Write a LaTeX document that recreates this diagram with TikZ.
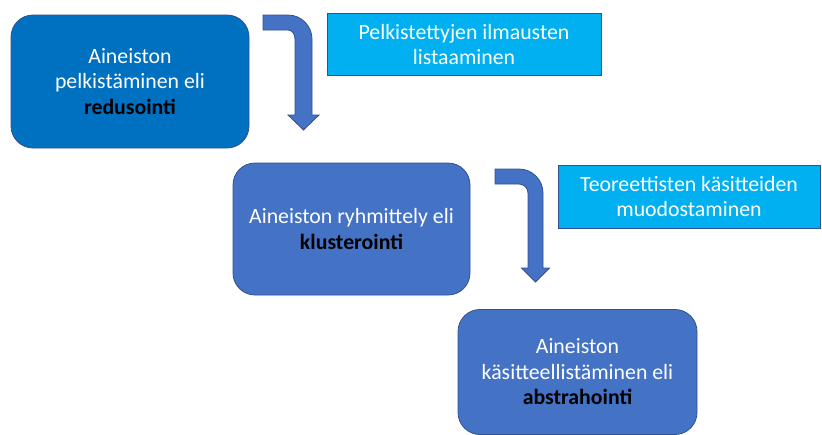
\documentclass[tikz,border=0pt]{standalone}
\usepackage{fontspec}
\setmainfont{Carlito}
\definecolor{darkbox}{HTML}{0070C0}
\definecolor{midbox}{HTML}{4472C4}
\definecolor{lightbox}{HTML}{00B0F0}
\definecolor{edgeblue}{HTML}{2F528F}
\tikzset{
  stagebox/.style={draw=edgeblue, line width=0.8pt, rounded corners=22pt, text=white, align=center, inner sep=0pt, font=\fontsize{21.8}{25.5}\selectfont},
  notebox/.style={draw=edgeblue, line width=0.8pt, fill=lightbox, text=white, align=center, inner sep=0pt, font=\fontsize{21.8}{25.5}\selectfont},
  bentarrow/.style={draw=edgeblue, line width=0.8pt, fill=midbox, line join=miter}
}
\begin{document}
\begin{tikzpicture}[x=1pt,y=-1pt]
\useasboundingbox (0,0) rectangle (822,434);
\node[stagebox, fill=darkbox, minimum width=238pt, minimum height=133pt] (b1) at (130,81.5)
  {Aineiston\\pelkistäminen eli\\\textcolor{black}{\textbf{redusointi}}};
\node[stagebox, fill=midbox, minimum width=237pt, minimum height=132pt] (b2) at (351.5,229)
  {Aineiston ryhmittely eli\\\textcolor{black}{\textbf{klusterointi}}};
\node[stagebox, fill=midbox, minimum width=239pt, minimum height=125pt] (b3) at (577.5,372)
  {Aineiston\\käsitteellistäminen eli\\\textcolor{black}{\textbf{abstrahointi}}};
\node[notebox, minimum width=274pt, minimum height=62pt] (n1) at (464,44.5)
  {Pelkistettyjen ilmausten\\listaaminen};
\node[notebox, minimum width=262pt, minimum height=63pt] (n2) at (689,196.5)
  {Teoreettisten käsitteiden\\muodostaminen};
% bent arrows
\draw[bentarrow] (263,15) -- (288,15) .. controls (301.2,15) and (312,25.8) .. (312,39)
  -- (312,115) -- (319,115) -- (303.5,130) -- (288,115) -- (295,115) -- (295,39)
  .. controls (295,34) and (292,30) .. (288,30) -- (263,30) -- cycle;
\draw[bentarrow] (495,169) -- (519,169) .. controls (532.2,169) and (543,179.8) .. (543,193)
  -- (543,268) -- (549.5,268) -- (535.5,282) -- (521.5,268) -- (528,268) -- (528,193)
  .. controls (528,188) and (524,184) .. (519,184) -- (495,184) -- cycle;
\end{tikzpicture}
\end{document}
